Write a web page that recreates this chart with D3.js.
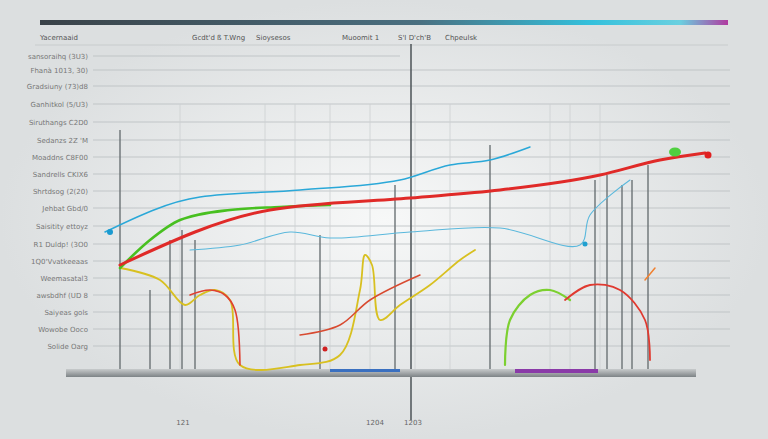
<!DOCTYPE html><html><head><meta charset="utf-8"><script src="https://cdn.jsdelivr.net/npm/d3@7"></script>
<style>body{margin:0;overflow:hidden}</style></head><body><svg id="c" width="768" height="439"></svg>
<script>
const rowLabels=["sansoraihq (3U3)","Fhanà 1013, 30)","Gradsiuny (73)d8","Ganhitkol (5/U3)","Siruthangs C2D0","Sedanzs 2Z 'M","Moaddns C8F00","Sandrells CKIX6","Shrtdsog (2(20)","Jehbat Gbd/0","Saisitity ettoyz","R1 Duldp! (3O0","1Q0'Vvatkeeaas","Weemasatal3","awsbdhf (UD 8","Saiyeas gols","Wowobe Ooco","Solide Oarg"];
const rowY=[38.3,36.9,35.3,33.5,31.7,29.9,28.2,26.5,24.8,23.1,21.3,19.5,17.8,16.1,14.4,12.7,11.0,9.3];
const headLabels=["Yacernaaid","Gcdt'd ß T.Wng","Sioysesos","Muoomit 1","S'I D'ch'B","Chpeulsk"];
const headX=[4,19.2,25.6,34.2,39.8,44.5];
const bottomTicks=["121","1204","1203"];
const bottomX=[18.3,37.5,41.3];
const vLines=[[12,30.9],[15,14.9],[17,19.9],[18.2,20.9],[19.5,19.9],[32,20.4],[39.5,25.4],[49,29.4],[59.5,25.9],[60.7,26.4],[62.2,25.4],[63.2,25.9],[64.8,27.4]];
const lightV=[18,26.5,29.5,33,37,41.5,45,55,57,60];
const sRedMain=[[12,17.4],[27,22.9],[41,24.1],[50,24.9],[60,26.4],[66,27.9],[70.5,28.6]];
const sGreen=[[12,17.1],[15,19.9],[18,21.9],[23,22.9],[28,23.2],[33,23.4]];
const sCyanUp=[[10.5,20.7],[20,24.2],[30,24.9],[40,25.9],[45,27.4],[49,27.9],[53,29.2]];
const sCyanLow=[[19,18.9],[24,19.4],[29,20.7],[33,20.1],[41,20.7],[50,21.1],[58,19.4],[59,22.4],[63,25.9]];
const sYellow=[[12,17.1],[16,15.9],[18.5,13.4],[20,14.4],[21.5,14.9],[23,13.9],[24,7.4],[30,7.4],[34,8.4],[36,14.9],[36.5,18.4],[37.2,17.4],[38,11.9],[40,13.4],[43,15.4],[46,17.9],[47.5,18.9]];
const sRedLow=[[19,14.4],[21,14.9],[22.5,14.4],[23.5,12.9],[24,7.4]];
const sRedBot=[[30,10.4],[34,11.4],[37,13.9],[42,16.4]];
const sGreenArc=[[50.5,7.4],[51,11.9],[53,14.4],[55,14.9],[57,13.9]];
const sRedArc=[[56.5,13.9],[59,15.4],[62,14.9],[64.5,11.9],[65,7.9]];
const sOrange=[[64.5,15.9],[65.5,17.1]];

const svg=d3.select("#c");
const x=d3.scaleLinear().domain([0,76.8]).range([0,768]);
const y=d3.scaleLinear().domain([0,43.9]).range([439,0]);
const defs=svg.append("defs");
const bg=defs.append("radialGradient").attr("id","bg");
bg.append("stop").attr("offset","0%").attr("stop-color","#f7f8f8");
bg.append("stop").attr("offset","100%").attr("stop-color","#dcdfe0");
svg.append("rect").attr("width",768).attr("height",439).attr("fill","url(#bg)");
const tg=defs.append("linearGradient").attr("id","tg");
[["0%","#3a4248"],["55%","#4a6f80"],["80%","#33c0dc"],["93%","#6ad0e0"],["100%","#b03aa0"]].forEach(s=>tg.append("stop").attr("offset",s[0]).attr("stop-color",s[1]));
svg.append("rect").attr("x",x(4)).attr("y",y(41.9)).attr("width",x(72.8)-x(4)).attr("height",5).attr("fill","url(#tg)");
svg.append("line").attr("x1",x(3.5)).attr("x2",x(72.8)).attr("y1",y(39.4)).attr("y2",y(39.4)).attr("stroke","#c8cccd");
svg.selectAll(".hl").data(headLabels).join("text").attr("x",(d,i)=>x(headX[i])).attr("y",y(39.9)).text(d=>d)
 .attr("font-family","DejaVu Sans").attr("font-size",7).attr("fill","#555");
// gridlines
svg.selectAll(".g").data(rowY).join("line").attr("x1",x(9.3)).attr("x2",(d,i)=>i<1?x(40):x(73)).attr("y1",d=>y(d)).attr("y2",d=>y(d)).attr("stroke","#b9bec0").attr("stroke-width",0.8);
svg.selectAll(".rl").data(rowLabels).join("text").attr("x",x(8.8)).attr("y",(d,i)=>y(rowY[i])+3).attr("text-anchor","end").text(d=>d)
 .attr("font-family","DejaVu Sans").attr("font-size",7).attr("fill","#777");
svg.selectAll(".lv").data(lightV).join("line").attr("x1",d=>x(d)).attr("x2",d=>x(d)).attr("y1",y(33.5)).attr("y2",y(6.9)).attr("stroke","#cdd1d2").attr("stroke-width",0.8);
svg.selectAll(".vv").data(vLines).join("line").attr("x1",d=>x(d[0])).attr("x2",d=>x(d[0])).attr("y1",d=>y(d[1])).attr("y2",y(7.0)).attr("stroke","#6b7275").attr("stroke-width",1.4);
svg.append("line").attr("x1",x(41.1)).attr("x2",x(41.1)).attr("y1",y(39.5)).attr("y2",y(1.9)).attr("stroke","#555c60").attr("stroke-width",1.6);
// bottom bar
const bb=defs.append("linearGradient").attr("id","bb").attr("x1",0).attr("x2",0).attr("y1",0).attr("y2",1);
bb.append("stop").attr("offset","0%").attr("stop-color","#c8cbcc");bb.append("stop").attr("offset","100%").attr("stop-color","#7d8386");
svg.append("rect").attr("x",x(6.6)).attr("y",y(7.0)).attr("width",x(69.6)-x(6.6)).attr("height",8).attr("fill","url(#bb)");
svg.append("rect").attr("x",x(51.5)).attr("y",y(7.0)).attr("width",x(59.8)-x(51.5)).attr("height",4).attr("fill","#8a3aa8");
svg.append("rect").attr("x",x(33)).attr("y",y(7.0)).attr("width",x(40)-x(33)).attr("height",3).attr("fill","#3a70c0");
svg.selectAll(".bt").data(bottomTicks).join("text").attr("x",(d,i)=>x(bottomX[i])).attr("y",y(1.4)).attr("text-anchor","middle").text(d=>d)
 .attr("font-family","DejaVu Sans").attr("font-size",7).attr("fill","#666");
const line=d3.line().x(d=>x(d[0])).y(d=>y(d[1])).curve(d3.curveMonotoneX);
const lineC=d3.line().x(d=>x(d[0])).y(d=>y(d[1])).curve(d3.curveCatmullRom);
function draw(data,col,w,gen){svg.append("path").attr("d",(gen||line)(data)).attr("fill","none").attr("stroke",col).attr("stroke-width",w).attr("stroke-linecap","round");}
draw(sCyanUp,"#2aa8d8",1.5);
draw(sCyanLow,"#5ab8dc",1.1,lineC);
draw(sYellow,"#d8c020",1.8,lineC);
draw(sRedLow,"#e04030",1.6,lineC);
draw(sRedBot,"#d84a30",1.5,lineC);
draw(sGreenArc,"#7cd030",2.2,lineC);
draw(sRedArc,"#e03a30",1.8,lineC);
draw(sOrange,"#f08030",1.5);
draw(sGreen,"#48c020",2.6);
draw(sRedMain,"#e02a28",3);
svg.append("circle").attr("cx",x(11)).attr("cy",y(20.7)).attr("r",3).attr("fill","#1a9ad0");
svg.append("ellipse").attr("cx",x(67.5)).attr("cy",y(28.7)).attr("rx",6).attr("ry",4.5).attr("fill","#50d040");
svg.append("circle").attr("cx",x(70.8)).attr("cy",y(28.4)).attr("r",3.5).attr("fill","#e02020");
svg.append("circle").attr("cx",x(32.5)).attr("cy",y(9.0)).attr("r",2.5).attr("fill","#d02020");
svg.append("circle").attr("cx",x(58.5)).attr("cy",y(19.5)).attr("r",2.5).attr("fill","#20a0d0");
</script></body></html>
